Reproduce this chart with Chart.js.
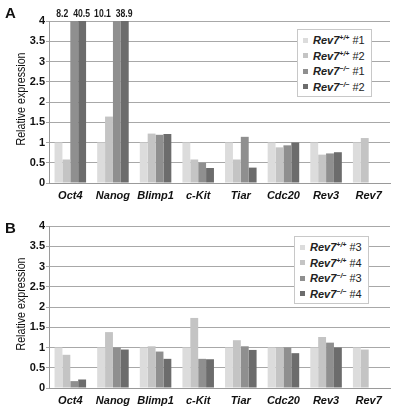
<!DOCTYPE html>
<html>
<head>
<meta charset="utf-8">
<script src="https://cdn.jsdelivr.net/npm/chart.js@4.4.1/dist/chart.umd.min.js"></script>
<style>
  body { margin: 0; background: #fff; font-family: "Liberation Sans", Arial, sans-serif; }
  #wrap { position: relative; width: 393px; height: 410px; overflow: hidden; }
  .panel { position: absolute; left: 0; width: 393px; height: 210px; }
  .panel canvas { width: 393px !important; height: 210px !important; }
  .letter { position: absolute; left: 5px; font-weight: bold; font-size: 15px; color: #111; }
  .legend {
    position: absolute; background: #fff; border: 1px solid #c8c8c8;
    padding: 3px 0 2px 5px; box-sizing: border-box; width: 75px;
  }
  .legend div { height: 15.5px; line-height: 15.5px; font-size: 11px; color: #222; white-space: nowrap; }
  .legend span.sw { display: inline-block; width: 5px; height: 5px; margin-right: 5px; vertical-align: middle; position: relative; top: -1px; }
  .legend b { font-style: italic; }
  .legend sup { font-size: 7px; font-weight: bold; font-style: italic; vertical-align: 4px; line-height: 0; }
</style>
</head>
<body>
<div id="wrap">
  <div class="panel" style="top:0"><canvas id="chartA" width="393" height="210"></canvas></div>
  <div class="panel" style="top:205px"><canvas id="chartB" width="393" height="210"></canvas></div>
  <div class="letter" style="top:4px">A</div>
  <div class="letter" style="top:219px">B</div>
  <div class="legend" id="legendA" style="left:297px; top:29px; height:68px"></div>
  <div class="legend" id="legendB" style="left:294px; top:236px; height:68px"></div>
</div>
<script>
// genes on the x axis
const genes = ['Oct4', 'Nanog', 'Blimp1', 'c-Kit', 'Tiar', 'Cdc20', 'Rev3', 'Rev7'];
const yTicks = [0, 0.5, 1, 1.5, 2, 2.5, 3, 3.5, 4];
const barColors = ['#dcdcdc', '#c4c4c4', '#8f8f8f', '#6c6c6c'];

// panel A (values above 4 are cut off, their real value is printed on top)
const seriesA = ['+/+|#1', '+/+|#2', '\u2212/\u2212|#1', '\u2212/\u2212|#2'];
const wt1A = [1, 1, 1, 1, 1, 1, 1, 1];
const wt2A = [0.58, 1.64, 1.22, 0.58, 0.58, 0.88, 0.70, 1.11];
const ko1A = [8.2, 10.1, 1.19, 0.50, 1.14, 0.93, 0.73, 0];
const ko2A = [40.5, 38.9, 1.21, 0.37, 0.38, 1.00, 0.76, 0];

// panel B
const seriesB = ['+/+|#3', '+/+|#4', '\u2212/\u2212|#3', '\u2212/\u2212|#4'];
const wt1B = [1, 1, 1, 1, 1, 1, 1, 1];
const wt2B = [0.82, 1.38, 1.03, 1.73, 1.18, 1.00, 1.26, 0.95];
const ko1B = [0.17, 1.00, 0.90, 0.72, 1.03, 1.00, 1.12, 0];
const ko2B = [0.21, 0.95, 0.72, 0.71, 0.94, 0.86, 1.00, 0];

const FONT = '"Liberation Sans", Arial, sans-serif';

// squeezed text, to get closer to the narrow font of the original
function narrowText(ctx, text, x, y, sx, rot) {
  ctx.save();
  ctx.translate(x, y);
  if (rot) ctx.rotate(rot);
  ctx.scale(sx, 1);
  ctx.fillText(text, 0, 0);
  ctx.restore();
}

// prints the real value of bars cut off by the axis max, and the y title
const extraText = {
  id: 'extraText',
  afterDatasetsDraw(chart) {
    const max = chart.scales.y.max;
    const area = chart.chartArea;
    const ctx = chart.ctx;
    ctx.save();
    ctx.fillStyle = '#1a1a1a';
    ctx.font = 'bold 11.5px ' + FONT;
    ctx.textBaseline = 'alphabetic';
    ctx.textAlign = 'left';
    chart.data.datasets.forEach((ds, di) => {
      const meta = chart.getDatasetMeta(di);
      ds.data.forEach((v, i) => {
        if (v > max) {
          const bar = meta.data[i];
          const w = ctx.measureText(String(v)).width * 0.75;
          const x = di === 2 ? bar.x - 6 - w : bar.x - 9;
          narrowText(ctx, String(v), x, area.top - 4, 0.75, 0);
        }
      });
    });
    ctx.fillStyle = '#111';
    ctx.font = '13px ' + FONT;
    ctx.textAlign = 'center';
    ctx.textBaseline = 'middle';
    narrowText(ctx, 'Relative expression', 21, (area.top + area.bottom) / 2 - 3, 0.82, -Math.PI / 2);
    ctx.restore();
  }
};

function makeChart(id, series, values) {
  new Chart(document.getElementById(id), {
    type: 'bar',
    data: {
      labels: genes,
      datasets: values.map((d, i) => ({
        label: 'Rev7' + series[i],
        data: d,
        backgroundColor: barColors[i],
        borderWidth: 0,
        categoryPercentage: 0.74,
        barPercentage: 1.0
      }))
    },
    options: {
      responsive: false,
      animation: false,
      devicePixelRatio: 1,
      layout: { padding: { top: 21, right: 3, left: 0, bottom: 0 } },
      plugins: { legend: { display: false }, tooltip: { enabled: false } },
      scales: {
        x: {
          grid: { display: false, drawTicks: false },
          border: { color: '#9a9a9a', width: 1 },
          ticks: { color: '#111', font: { family: FONT, size: 11, weight: 'bold', style: 'italic' }, padding: 6, maxRotation: 0, autoSkip: false },
          afterFit: s => { s.height = 27; }
        },
        y: {
          min: 0, max: 4,
          afterBuildTicks: s => { s.ticks = yTicks.map(v => ({ value: v })); },
          grid: { color: '#a8a8a8', lineWidth: 1, tickLength: 3 },
          border: { color: '#9a9a9a', width: 1 },
          ticks: { color: '#111', font: { family: FONT, size: 11, weight: 'bold' }, padding: 1, callback: v => String(v) },
          title: { display: false, text: 'Relative expression' },
          afterFit: s => { s.width = 49; }
        }
      }
    },
    plugins: [extraText]
  });
}

makeChart('chartA', seriesA, [wt1A, wt2A, ko1A, ko2A]);
makeChart('chartB', seriesB, [wt1B, wt2B, ko1B, ko2B]);

function makeLegend(id, series) {
  const el = document.getElementById(id);
  series.forEach((s, i) => {
    const [sup, num] = s.split('|');
    const row = document.createElement('div');
    row.innerHTML = '<span class="sw" style="background:' + barColors[i] + '"></span><b>Rev7</b><sup>' + sup + '</sup> ' + num;
    el.appendChild(row);
  });
}
makeLegend('legendA', seriesA);
makeLegend('legendB', seriesB);
</script>
</body>
</html>
